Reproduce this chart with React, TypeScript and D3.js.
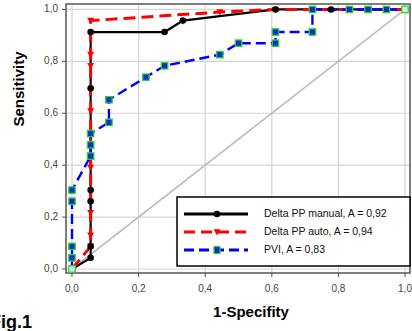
import React from 'react'
import * as d3 from 'd3'

// ROC curves, values (1-specificity, sensitivity)
const manualX = [0, 0.056, 0.056, 0.056, 0.056, 0.056, 0.056, 0.278, 0.333, 0.611, 0.778, 1]
const manualY = [0, 0.043, 0.087, 0.261, 0.304, 0.696, 0.913, 0.913, 0.957, 1, 1, 1]

const autoX = [0, 0.056, 0.056, 0.056, 0.056, 0.056, 0.056, 0.056, 0.056, 0.056, 0.444, 0.611, 1]
const autoY = [0, 0.087, 0.13, 0.217, 0.391, 0.435, 0.609, 0.783, 0.826, 0.957, 0.99, 1, 1]

const pviX = [0, 0, 0, 0, 0, 0.056, 0.056, 0.056, 0.111, 0.111, 0.222, 0.278, 0.444, 0.5, 0.611, 0.611, 0.722, 0.722, 0.833, 0.889, 0.944, 1]
const pviY = [0, 0.043, 0.087, 0.261, 0.304, 0.435, 0.478, 0.522, 0.565, 0.652, 0.739, 0.783, 0.826, 0.87, 0.87, 0.913, 0.913, 1, 1, 1, 1, 1]

const ticks = [0, 0.2, 0.4, 0.6, 0.8, 1]
const tickLabels = ['0,0', '0,2', '0,4', '0,6', '0,8', '1,0']
const legendLabels = ['Delta PP manual, A = 0,92', 'Delta PP auto, A = 0,94', 'PVI, A = 0,83']

const W = 412
const H = 331
const left = 66
const right = 410
const top = 4
const bottom = 273

const font = 'Arial, "Liberation Sans", sans-serif'

export default function App() {
  const x = d3.scaleLinear().domain([-0.018, 1.015]).range([left, right])
  const y = d3.scaleLinear().domain([-0.0154, 1.021]).range([bottom, top])
  const line = d3.line<[number, number]>().x(d => x(d[0])).y(d => y(d[1]))

  const manual = manualX.map((v, i) => [v, manualY[i]] as [number, number])
  const auto = autoX.map((v, i) => [v, autoY[i]] as [number, number])
  const pvi = pviX.map((v, i) => [v, pviY[i]] as [number, number])

  const tri = (cx: number, cy: number, s: number) =>
    `M${cx - s},${cy - s * 0.8}L${cx + s},${cy - s * 0.8}L${cx},${cy + s}Z`

  const legX = 177
  const legY = 197
  const rowY = [214, 232, 250]

  return (
    <svg
      width={W}
      height={H}
      style={{ position: 'absolute', left: 0, top: 0, display: 'block' }}
      fontFamily={font}
    >
      <rect width={W} height={H} fill="#fff" />
      {/* grid */}
      {ticks.map(t => (
        <g key={'g' + t}>
          <line x1={x(t)} x2={x(t)} y1={top} y2={bottom} stroke="#d4d4d4" strokeWidth={1.2} />
          <line x1={left} x2={right} y1={y(t)} y2={y(t)} stroke="#d4d4d4" strokeWidth={1.2} />
        </g>
      ))}
      {/* diagonal */}
      <line x1={x(0)} y1={y(0)} x2={x(1)} y2={y(1)} stroke="#bdbdbd" strokeWidth={1.6} />

      {/* frame */}
      <rect x={left} y={top} width={right - left} height={bottom - top} fill="none" stroke="#555" strokeWidth={1.5} />

      {/* ticks and labels */}
      {ticks.map((t, i) => (
        <g key={'t' + t}>
          <line x1={x(t)} x2={x(t)} y1={bottom} y2={bottom + 4} stroke="#555" />
          <line x1={left - 4} x2={left} y1={y(t)} y2={y(t)} stroke="#555" />
          <text x={x(t)} y={289} textAnchor="middle" dominantBaseline="middle" fontSize={10} fill="#444">
            {tickLabels[i]}
          </text>
          <text x={58} y={y(t)} textAnchor="end" dominantBaseline="middle" fontSize={10} fill="#444">
            {tickLabels[i]}
          </text>
        </g>
      ))}

      {/* curves */}
      <path d={line(manual) || ''} fill="none" stroke="#000" strokeWidth={2.2} />
      <path d={line(auto) || ''} fill="none" stroke="#f00" strokeWidth={3} strokeDasharray="12,6" />
      <path d={line(pvi) || ''} fill="none" stroke="#00f" strokeWidth={2.4} strokeDasharray="10,5" />

      {/* markers */}
      {auto.slice(1, -1).map((d, i) => (
        <path key={'a' + i} d={tri(x(d[0]), y(d[1]), 3.5)} fill="#f00" />
      ))}
      {manual.slice(1, -1).map((d, i) => (
        <circle key={'m' + i} cx={x(d[0])} cy={y(d[1])} r={3.3} fill="#000" />
      ))}
      {pvi.map((d, i) => {
        const end = i === 0 || i === pvi.length - 1
        return (
          <rect
            key={'p' + i}
            x={x(d[0]) - 3.2}
            y={y(d[1]) - 3.2}
            width={6.4}
            height={6.4}
            fill={end ? '#cfe' : '#0033cc'}
            stroke="#3c3"
            strokeWidth={1.3}
          />
        )
      })}

      {/* legend */}
      <rect x={legX} y={legY} width={233} height={69} fill="#fff" stroke="#000" strokeWidth={1.5} />
      <line x1={184} x2={248} y1={rowY[0]} y2={rowY[0]} stroke="#000" strokeWidth={2.8} />
      <circle cx={217} cy={rowY[0]} r={3.3} fill="#000" />
      <line x1={184} x2={248} y1={rowY[1]} y2={rowY[1]} stroke="#f00" strokeWidth={3.2} strokeDasharray="11,6" />
      <path d={tri(217, rowY[1], 3.5)} fill="#f00" />
      <line x1={184} x2={248} y1={rowY[2]} y2={rowY[2]} stroke="#00f" strokeWidth={3} strokeDasharray="10,5" />
      <rect x={214} y={rowY[2] - 3.5} width={6} height={7} fill="#0033cc" stroke="#3c3" strokeWidth={1.2} />
      {legendLabels.map((l, i) => (
        <text key={l} x={264} y={rowY[i]} dominantBaseline="middle" fontSize={10.5} fill="#111">
          {l}
        </text>
      ))}

      {/* titles */}
      <text
        transform="translate(20,89) rotate(-90)"
        textAnchor="middle"
        dominantBaseline="middle"
        fontSize={15}
        fontWeight="bold"
      >
        Sensitivity
      </text>
      <text x={251} y={313} textAnchor="middle" dominantBaseline="middle" fontSize={15} fontWeight="bold">
        1-Specifity
      </text>
      <text x={-10} y={328} fontSize={18} fontWeight="bold">
        Fig.1
      </text>
    </svg>
  )
}
